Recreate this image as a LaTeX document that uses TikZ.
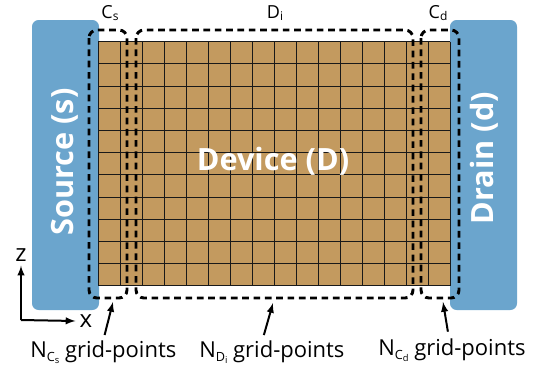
\documentclass[tikz,border=0pt]{standalone}
\usepackage{fontspec}
\setmainfont{Open Sans}
\usetikzlibrary{positioning}
\definecolor{leadblue}{HTML}{6BA5CD}
\definecolor{devtan}{HTML}{C39A5F}
% lowered small text for subscripts
\newcommand{\lowtxt}[3]{\raisebox{-#1}{\fontsize{#2}{#2}\selectfont #3}}

\begin{document}
\begin{tikzpicture}[x=0.75pt,y=-0.75pt,
    lead/.style={fill=leadblue, rounded corners=5pt},
    gridline/.style={line width=0.75pt, black!90},
    region/.style={line width=2.2pt, dash pattern=on 5pt off 3.5pt, rounded corners=6pt},
    lbl/.style={inner sep=0pt, anchor=west, font=\fontsize{16.5}{19}\selectfont},
    hdr/.style={inner sep=0pt, font=\fontsize{13.5}{16}\selectfont},
    big/.style={inner sep=0pt, text=white, font=\bfseries\fontsize{23}{26}\selectfont},
    pointer/.style={-latex, line width=1.5pt},
    axisarrow/.style={-latex, line width=1.5pt}]
    \useasboundingbox (0,0) rectangle (559,375);
    % Contacts
    \fill[lead] (32,20) rectangle (99,310);
    \fill[lead] (450,20) rectangle (517,310);
    % Device grid
    \fill[devtan] (98,41.7) rectangle (450,286);
    \foreach \i in {0,...,16}
        \draw[gridline] ({98+22*\i},41.7) -- ({98+22*\i},286);
    \foreach \j in {0,...,11}
        \draw[gridline] (98,{41.7+22.2*\j}) -- (450,{41.7+22.2*\j});
    % Regions
    \draw[region] (89,30) rectangle (127,298);
    \draw[region] (136,30) rectangle (413,298);
    \draw[region] (421,30) rectangle (459,298);
    % Region names
    \node[hdr] (labCs) at (110,13) {C\lowtxt{2pt}{9}{s}};
    \node[hdr] (labDi) at (275,13) {D\lowtxt{2pt}{9}{i}};
    \node[hdr] (labCd) at (438,13) {C\lowtxt{2pt}{9}{d}};
    % Big labels
    \node[big, rotate=90] (src) at (65,162) {Source (s)};
    \node[big, rotate=90] (drn) at (484,158) {Drain (d)};
    \node[big] (dev) at (273,161) {Device (D)};
    % Grid-point counts
    \node[lbl] (ptsCs) at (30,352)
        {N\lowtxt{3pt}{9.5}{C\lowtxt{1.5pt}{7}{s}} grid-points};
    \node[lbl] (ptsDi) at (199,352)
        {N\lowtxt{3pt}{9.5}{D\lowtxt{1.5pt}{7}{i}} grid-points};
    \node[lbl] (ptsCd) at (378,350)
        {N\lowtxt{3pt}{9.5}{C\lowtxt{1.5pt}{7}{d}} grid-points};
    \coordinate (tipCs) at (113,302);
    \coordinate (tipDi) at (273,303);
    \coordinate (tipCd) at (443,302);
    \draw[pointer] ([xshift=1pt,yshift=4pt]ptsCs.north) -- (tipCs);
    \draw[pointer] ([xshift=-6pt,yshift=4pt]ptsDi.north) -- (tipDi);
    \draw[pointer] ([xshift=-3pt,yshift=5pt]ptsCd.north) -- (tipCd);
    % Axes
    \coordinate (orig) at (21,320);
    \node[inner sep=0pt, font=\fontsize{18}{20}\selectfont] (axZ) at (21,255) {z};
    \node[inner sep=0pt, font=\fontsize{18}{20}\selectfont] (axX) at (86,321) {x};
    \draw[axisarrow] (orig) -- ([yshift=-3pt]axZ.south);
    \draw[axisarrow] (orig) -- ([xshift=-3pt]axX.west);
\end{tikzpicture}
\end{document}
